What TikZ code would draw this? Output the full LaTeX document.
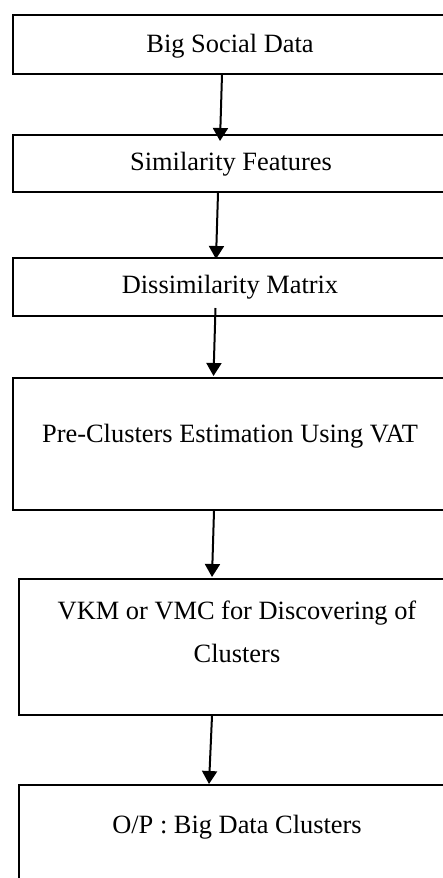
\documentclass[tikz,border=0pt]{standalone}
\usepackage{fontspec}
\setmainfont{Liberation Serif}
\usetikzlibrary{arrows.meta,calc}
\tikzset{
  box/.style={draw=black, line width=1pt, inner sep=0pt, rectangle},
  lbl/.style={font=\fontsize{13.2}{21.5}\selectfont, inner sep=0pt, anchor=base, align=center},
  arr/.style={line width=1pt, -{Triangle[length=6.5pt,width=7.5pt]}}
}
\begin{document}
\begin{tikzpicture}[x=0.5pt,y=-0.5pt]
\useasboundingbox (0,0) rectangle (443,878);
\clip (0,0) rectangle (443,878);
\fill[white] (0,0) rectangle (443,878);
% boxes
\node[box, minimum width=223.5pt, minimum height=29.25pt] (b1) at (236.5,44.25) {};
\node[box, minimum width=223.5pt, minimum height=28.75pt] (b2) at (236.5,163.25) {};
\node[box, minimum width=223.5pt, minimum height=29pt] (b3) at (236.5,287) {};
\node[box, minimum width=223.5pt, minimum height=66pt] (b4) at (236.5,444) {};
\node[box, minimum width=220.5pt, minimum height=68pt] (b5) at (239.5,647) {};
\node[box, minimum width=220.5pt, minimum height=57.5pt] (b6) at (239.5,842.5) {};
% labels
\node[lbl] (t1) at (230,52) {Big Social Data};
\node[lbl] (t2) at (231,170) {Similarity Features};
\node[lbl] (t3) at (230,293) {Dissimilarity Matrix};
\node[lbl] (t4) at (230,442) {Pre-Clusters Estimation Using VAT};
\node[lbl] (t5) at (237,662) {VKM or VMC for Discovering of\\Clusters};
\node[lbl] (t6) at (237,833) {O/P : Big Data Clusters};
% arrows
\draw[arr] ($(b1.south west)+(210,0)$) -- ($(b2.north west)+(208,7.5)$);
\draw[arr] ($(b2.south west)+(206,0)$) -- ($(b3.north west)+(204,2)$);
\draw[arr] ($(b3.south west)+(203.5,-9)$) -- ($(b4.north west)+(201.5,-1)$);
\draw[arr] ($(b4.south west)+(202,0)$) -- ($(b5.north west)+(194,-1)$);
\draw[arr] ($(b5.south west)+(194,0)$) -- ($(b6.north west)+(191,0)$);
\end{tikzpicture}
\end{document}
